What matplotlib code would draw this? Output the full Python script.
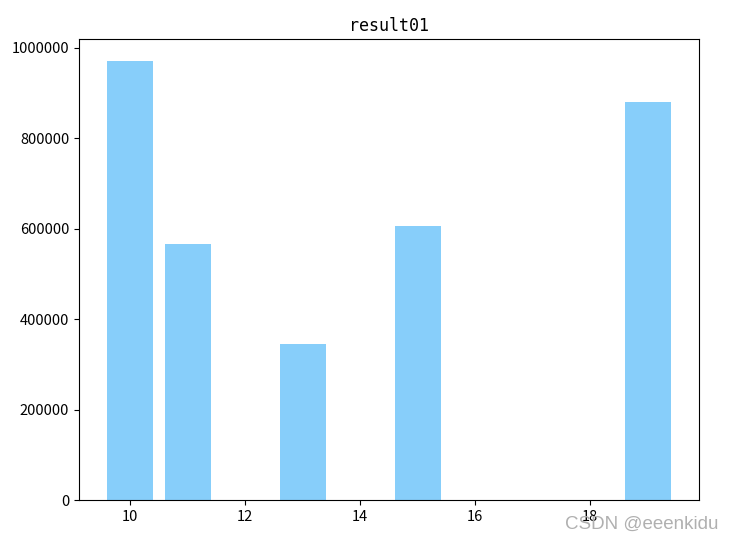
import matplotlib
matplotlib.use("Agg")
import matplotlib.pyplot as plt

x_values = [10, 11, 13, 15, 19]
y_values = [971000, 566000, 345000, 605000, 881000]
title = "result01"
bar_color = "#87CEFA"

plt.rcParams['font.family'] = ['Noto Sans CJK SC', 'DejaVu Sans']

fig = plt.figure(figsize=(7.31, 5.43), dpi=100)
ax = fig.add_axes([79/731, 1 - 500/543, (699-79)/731, (500-39)/543])
ax.bar(x_values, y_values, color=bar_color)
ax.set_title(title, family='DejaVu Sans Mono', fontsize=12)
ax.ticklabel_format(axis='y', style='plain')
ax.set_xticks([10, 12, 14, 16, 18])
ax.tick_params(labelsize=10.5)
fig.text(0.983, 0.018, "CSDN @eeenkidu", color="#b0b0b0", fontsize=13.5,
         ha='right', va='bottom', family=['Liberation Sans', 'DejaVu Sans'])
fig.savefig("out.png", dpi=100)
